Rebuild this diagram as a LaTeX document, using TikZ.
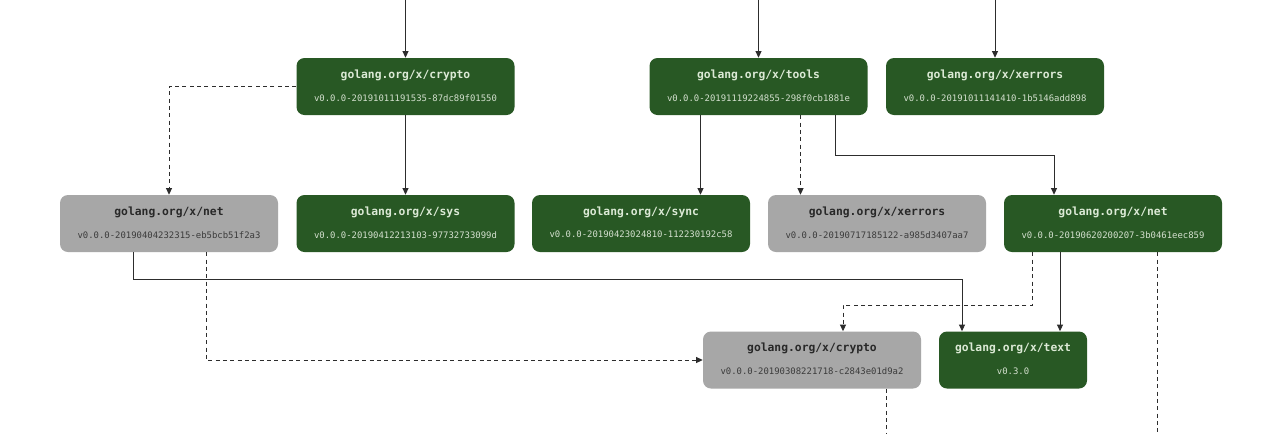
\documentclass[tikz,border=0pt]{standalone}
\usepackage{fontspec}
\setmonofont{DejaVu Sans Mono}
\usetikzlibrary{arrows.meta}
\definecolor{pkggreen}{RGB}{40,88,36}
\definecolor{pkggray}{RGB}{167,167,167}
\definecolor{lighttxt}{RGB}{220,234,214}
\definecolor{darktxt}{RGB}{40,40,40}
\definecolor{linecol}{RGB}{45,45,45}
\tikzset{
  x=0.75pt, y=-0.75pt,
  pkgbox/.style={rectangle, rounded corners=6pt, inner sep=0pt, minimum height=42.75pt, minimum width=163.5pt},
  greenbox/.style={pkgbox, fill=pkggreen},
  graybox/.style={pkgbox, fill=pkggray},
  titletxt/.style={inner sep=0pt, font=\ttfamily\bfseries\fontsize{8.5}{10}\selectfont},
  vertxt/.style={inner sep=0pt, font=\ttfamily\fontsize{6.7}{8}\selectfont},
  conn/.style={draw=linecol, line width=0.75pt, -{Triangle[length=5pt,width=4.5pt]}},
  dconn/.style={conn, dash pattern=on 3pt off 2.5pt},
  plain/.style={draw=linecol, line width=0.75pt},
  dplain/.style={plain, dash pattern=on 3pt off 2.5pt},
}
\newcommand{\pkgnode}[7]{%
  \node[#5] (#1) at (#2,#3) {};
  \node[titletxt, text=#6] (#1t) at ([yshift=8.6pt]#1.center) {#4};
  \node[vertxt, text=#6!85!pkggray] (#1v) at ([yshift=-8.4pt]#1.center) {#7};
}
\begin{document}
\begin{tikzpicture}
\useasboundingbox[fill=white] (0,0) rectangle (1280,433);
% top row
\pkgnode{cA}{405.5}{86.5}{golang.org/x/crypto}{greenbox}{lighttxt}{v0.0.0-20191011191535-87dc89f01550}
\pkgnode{tA}{758.5}{86.5}{golang.org/x/tools}{greenbox}{lighttxt}{v0.0.0-20191119224855-298f0cb1881e}
\pkgnode{xA}{995}{86.5}{golang.org/x/xerrors}{greenbox}{lighttxt}{v0.0.0-20191011141410-1b5146add898}
% second row
\pkgnode{nB}{169}{223.5}{golang.org/x/net}{graybox}{darktxt}{v0.0.0-20190404232315-eb5bcb51f2a3}
\pkgnode{sB}{405.5}{223.5}{golang.org/x/sys}{greenbox}{lighttxt}{v0.0.0-20190412213103-97732733099d}
\pkgnode{yB}{641}{223.5}{golang.org/x/sync}{greenbox}{lighttxt}{v0.0.0-20190423024810-112230192c58}
\pkgnode{xB}{877}{223.5}{golang.org/x/xerrors}{graybox}{darktxt}{v0.0.0-20190717185122-a985d3407aa7}
\pkgnode{nG}{1113}{223.5}{golang.org/x/net}{greenbox}{lighttxt}{v0.0.0-20190620200207-3b0461eec859}
% third row
\pkgnode{cC}{812}{360}{golang.org/x/crypto}{graybox}{darktxt}{v0.0.0-20190308221718-c2843e01d9a2}
\node[greenbox, minimum width=111pt] (tC) at (1013,360) {};
\node[titletxt, text=lighttxt] (tCt) at ([yshift=8.6pt]tC.center) {golang.org/x/text};
\node[vertxt, text=lighttxt!85!pkggray] (tCv) at ([yshift=-8.4pt]tC.center) {v0.3.0};
% free ends
\coordinate (inA) at (405.5,0);
\coordinate (inT) at (758.5,0);
\coordinate (inX) at (995,0);
\coordinate (outN) at (1157,433);
\coordinate (outC) at (886,433);
% incoming
\draw[conn] (inA) -- (cA.north);
\draw[conn] (inT) -- (tA.north);
\draw[conn] (inX) -- (xA.north);
% crypto top
\draw[dconn] (cA.west) -| (nB.north);
\draw[conn] (cA.south) -- (sB.north);
% tools
\draw[conn] ([xshift=-43.5pt]tA.south) -- ([xshift=-43.5pt]tA.south |- yB.north);
\draw[dconn] ([xshift=31.5pt]tA.south) -- ([xshift=31.5pt]tA.south |- xB.north);
\draw[conn] ([xshift=57.75pt]tA.south) -- ++(0,40) -| ([xshift=-44.25pt]nG.north);
% net gray
\draw[conn] ([xshift=-27pt]nB.south) -- ++(0,27) -| ([xshift=-38.25pt]tC.north);
\draw[dconn] ([xshift=27.75pt]nB.south) |- (cC.west);
% net green
\draw[dconn] ([xshift=-60.75pt]nG.south) -- ++(0,53) -| ([xshift=23.25pt]cC.north);
\draw[conn] ([xshift=-39.75pt]nG.south) -- ([xshift=-39.75pt]nG.south |- tC.north);
\draw[dplain] ([xshift=33pt]nG.south) -- (outN);
% crypto gray
\draw[dplain] (cC.south -| outC) -- (outC);
\end{tikzpicture}
\end{document}
